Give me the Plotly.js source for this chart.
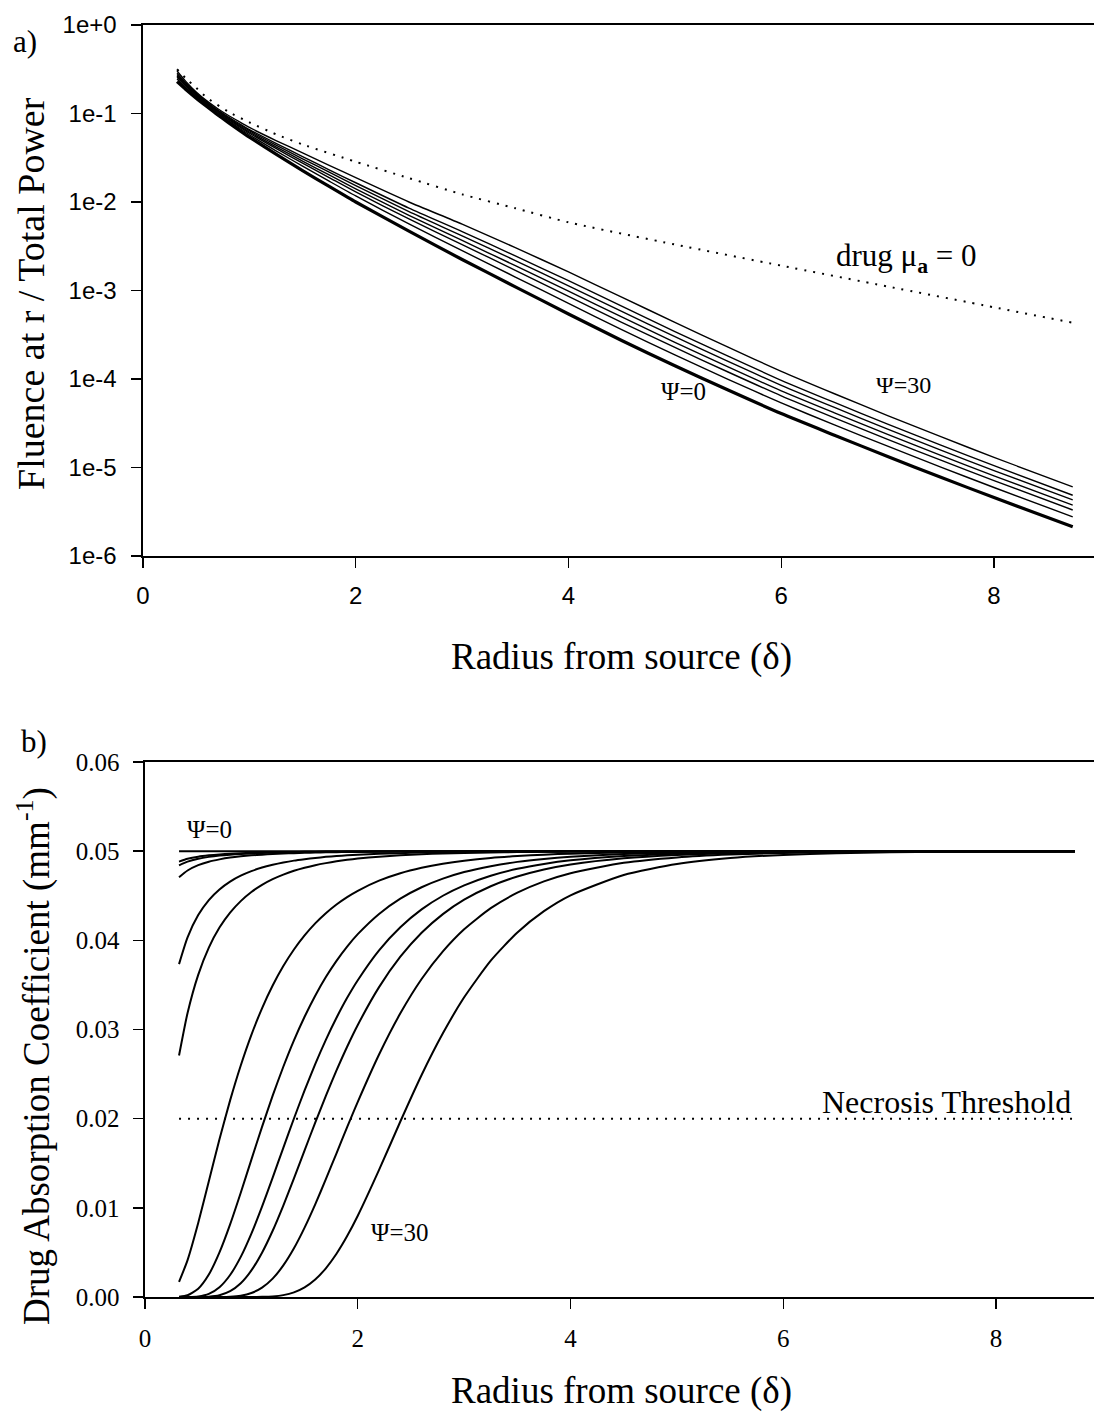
<!DOCTYPE html>
<html>
<head>
<meta charset="utf-8">
<script src="https://cdn.plot.ly/plotly-3.0.1.min.js"></script>
<style>html,body{margin:0;padding:0;background:#fff;}#chart{width:1094px;height:1418px;}</style>
</head>
<body>
<div id="chart"></div>
<script>
// ---------- Panel a) fluence vs radius ----------
const xFluence = [0.32,0.4,0.5,0.6,0.7,0.8,0.9,1.0,1.25,1.5,1.75,2.0,2.5,3.0,3.5,4.0,4.5,5.0,5.5,6.0,6.5,7.0,7.5,8.0,8.74];
const fluencePsi0  = [2.29e-1,1.88e-1,1.49e-1,1.20e-1,9.71e-2,7.94e-2,6.53e-2,5.40e-2,3.47e-2,2.26e-2,1.50e-2,1.00e-2,4.68e-3,2.24e-3,1.10e-3,5.43e-4,2.72e-4,1.41e-4,7.50e-5,4.07e-5,2.32e-5,1.33e-5,7.76e-6,4.57e-6,2.14e-6];
const fluencePsi5  = [2.45e-1,1.98e-1,1.55e-1,1.24e-1,1.01e-1,8.32e-2,6.90e-2,5.75e-2,3.79e-2,2.54e-2,1.72e-2,1.17e-2,5.66e-3,2.82e-3,1.42e-3,7.14e-4,3.61e-4,1.87e-4,9.91e-5,5.36e-5,3.03e-5,1.74e-5,1.01e-5,5.94e-6,2.77e-6];
const fluencePsi10 = [2.57e-1,2.06e-1,1.60e-1,1.27e-1,1.04e-1,8.59e-2,7.16e-2,6.00e-2,4.03e-2,2.75e-2,1.89e-2,1.30e-2,6.44e-3,3.30e-3,1.69e-3,8.60e-4,4.37e-4,2.27e-4,1.20e-4,6.45e-5,3.64e-5,2.08e-5,1.21e-5,7.10e-6,3.31e-6];
const fluencePsi15 = [2.66e-1,2.11e-1,1.63e-1,1.30e-1,1.06e-1,8.78e-2,7.35e-2,6.18e-2,4.20e-2,2.90e-2,2.02e-2,1.41e-2,7.05e-3,3.68e-3,1.91e-3,9.81e-4,5.02e-4,2.60e-4,1.37e-4,7.35e-5,4.15e-5,2.37e-5,1.37e-5,8.05e-6,3.75e-6];
const fluencePsi20 = [2.75e-1,2.16e-1,1.66e-1,1.32e-1,1.08e-1,8.99e-2,7.56e-2,6.39e-2,4.40e-2,3.08e-2,2.17e-2,1.53e-2,7.78e-3,4.15e-3,2.18e-3,1.13e-3,5.80e-4,3.01e-4,1.58e-4,8.48e-5,4.77e-5,2.72e-5,1.57e-5,9.22e-6,4.30e-6];
const fluencePsi25 = [2.85e-1,2.22e-1,1.70e-1,1.35e-1,1.10e-1,9.19e-2,7.76e-2,6.59e-2,4.60e-2,3.26e-2,2.31e-2,1.65e-2,8.53e-3,4.63e-3,2.46e-3,1.29e-3,6.64e-4,3.44e-4,1.81e-4,9.67e-5,5.43e-5,3.09e-5,1.79e-5,1.05e-5,4.86e-6];
const fluencePsi30 = [3.02e-1,2.32e-1,1.75e-1,1.39e-1,1.14e-1,9.55e-2,8.13e-2,6.95e-2,4.95e-2,3.59e-2,2.60e-2,1.88e-2,1.00e-2,5.62e-3,3.05e-3,1.62e-3,8.41e-4,4.37e-4,2.29e-4,1.22e-4,6.81e-5,3.86e-5,2.23e-5,1.30e-5,6.05e-6];
const xNoDrug = [0.32,0.4,0.5,0.6,0.8,1.0,1.25,1.5,2.0,2.5,3.0,3.5,4.0,5.0,6.0,7.0,8.0,8.74];
const fluenceNoDrug = [3.16e-1,2.51e-1,1.95e-1,1.51e-1,1.05e-1,7.94e-2,5.82e-2,4.47e-2,2.85e-2,1.86e-2,1.22e-2,8.51e-3,5.89e-3,3.31e-3,1.91e-3,1.11e-3,6.46e-4,4.32e-4];
const logTickVals = [1,1e-1,1e-2,1e-3,1e-4,1e-5,1e-6];
const logTickText = ["1e+0","1e-1","1e-2","1e-3","1e-4","1e-5","1e-6"];
const xTickVals = [0,2,4,6,8];

// ---------- Panel b) drug absorption coefficient ----------
const xDrug = [0.32,0.4,0.5,0.6,0.7,0.8,0.9,1.0,1.1,1.2,1.3,1.4,1.5,1.6,1.7,1.8,1.9,2.0,2.2,2.4,2.6,2.8,3.0,3.25,3.5,3.75,4.0,4.5,5.0,5.5,6.0,6.5,7.0,8.0,8.74];
const muA0  = [0.05,0.05,0.05,0.05,0.05,0.05,0.05,0.05,0.05,0.05,0.05,0.05,0.05,0.05,0.05,0.05,0.05,0.05,0.05,0.05,0.05,0.05,0.05,0.05,0.05,0.05,0.05,0.05,0.05,0.05,0.05,0.05,0.05,0.05,0.05];
const muA1  = [0.04883,0.04914,0.04938,0.04953,0.04964,0.04972,0.04977,0.04982,0.04985,0.04988,0.0499,0.04991,0.04993,0.04994,0.04995,0.04995,0.04996,0.04997,0.04998,0.04998,0.04998,0.04999,0.04999,0.05,0.05,0.05,0.05,0.05,0.05,0.05,0.05,0.05,0.05,0.05,0.05];
const muA2  = [0.04841,0.04883,0.04915,0.04936,0.04951,0.04961,0.04969,0.04975,0.04979,0.04983,0.04986,0.04988,0.0499,0.04992,0.04993,0.04994,0.04995,0.04996,0.04997,0.04998,0.04998,0.04999,0.04999,0.05,0.05,0.05,0.05,0.05,0.05,0.05,0.05,0.05,0.05,0.05,0.05];
const muA3  = [0.04708,0.04783,0.04843,0.04882,0.04908,0.04928,0.04942,0.04953,0.04961,0.04968,0.04974,0.04978,0.04982,0.04985,0.04987,0.04989,0.04991,0.04992,0.04994,0.04995,0.04996,0.04997,0.04998,0.04999,0.04999,0.04999,0.05,0.05,0.05,0.05,0.05,0.05,0.05,0.05,0.05];
const muA4  = [0.03733,0.04033,0.04283,0.04452,0.04571,0.04659,0.04725,0.04776,0.04816,0.04847,0.04873,0.04894,0.0491,0.04924,0.04936,0.04945,0.04953,0.0496,0.0497,0.04978,0.04984,0.04988,0.04991,0.04993,0.04995,0.04997,0.04998,0.04999,0.05,0.05,0.05,0.05,0.05,0.05,0.05];
const muA5  = [0.02708,0.03185,0.03613,0.03919,0.04143,0.04311,0.0444,0.04542,0.04622,0.04686,0.04737,0.0478,0.04814,0.04843,0.04866,0.04886,0.04903,0.04917,0.04938,0.04954,0.04966,0.04974,0.0498,0.04986,0.0499,0.04993,0.04995,0.04997,0.04999,0.05,0.05,0.05,0.05,0.05,0.05];
const muA6  = [0.00169,0.00414,0.0083,0.01299,0.01768,0.02205,0.02596,0.0294,0.03238,0.03493,0.03711,0.03897,0.04055,0.0419,0.04304,0.04402,0.04485,0.04556,0.04669,0.04752,0.04813,0.04859,0.04893,0.04924,0.04945,0.04961,0.04972,0.04985,0.04992,0.04996,0.04998,0.04999,0.05,0.05,0.05];
const muA7  = [0.00003,0.0002,0.00093,0.00252,0.005,0.00814,0.01169,0.01541,0.01908,0.02258,0.02582,0.02878,0.03143,0.03379,0.03588,0.0377,0.0393,0.04069,0.04296,0.04467,0.04595,0.04692,0.04766,0.04832,0.0488,0.04913,0.04937,0.04967,0.04982,0.04991,0.04995,0.04997,0.04998,0.05,0.05];
const muA8  = [0,0.000005,0.00007,0.00035,0.0011,0.00247,0.0045,0.00711,0.01014,0.01339,0.01673,0.02002,0.02317,0.02612,0.02884,0.03131,0.03355,0.03553,0.03888,0.04147,0.04347,0.045,0.04617,0.04725,0.04802,0.04857,0.04897,0.04945,0.04971,0.04984,0.04992,0.04995,0.04997,0.04999,0.05];
const muA9  = [0,0,0.000004,0.00004,0.0002,0.00065,0.00154,0.00298,0.00497,0.00743,0.01026,0.0133,0.01645,0.01955,0.02256,0.02541,0.02807,0.03051,0.03475,0.03816,0.04085,0.04294,0.04456,0.04607,0.04716,0.04795,0.04851,0.04921,0.04958,0.04977,0.04988,0.04993,0.04996,0.04999,0.05];
const muA10 = [0,0,0,0,0.000005,0.000035,0.00015,0.00045,0.00105,0.00206,0.00354,0.00546,0.00778,0.01039,0.01321,0.01612,0.01905,0.02189,0.0272,0.03181,0.03566,0.03876,0.04124,0.04361,0.04534,0.04661,0.04753,0.04869,0.0493,0.04962,0.04979,0.04989,0.04994,0.04998,0.04999];
const muA30 = [0,0,0,0,0,0,0,0.000003,0.00002,0.00007,0.00021,0.00052,0.00108,0.00196,0.00322,0.00485,0.00683,0.00911,0.01425,0.01968,0.0249,0.02957,0.03361,0.03772,0.04088,0.04327,0.04505,0.04733,0.04856,0.04922,0.04958,0.04977,0.04987,0.04996,0.04998];
const xThreshold = [0.32,8.74];
const threshold = [0.02,0.02];
const muTickVals = [0,0.01,0.02,0.03,0.04,0.05,0.06];

// ---------- build traces ----------
const serif = "Liberation Serif, Times New Roman, serif";
const sans = "Liberation Sans, Arial, sans-serif";
const traces = [];
function addLine(x, y, xa, ya, w, dash, shape) {
  traces.push({x: x, y: y, xaxis: xa, yaxis: ya, type: 'scatter', mode: 'lines',
    line: {color: '#000', width: w, dash: dash || 'solid', shape: shape || 'spline', smoothing: 0.6},
    hoverinfo: 'skip', showlegend: false});
}
addLine(xNoDrug, fluenceNoDrug, 'x', 'y', 2, '2px,7px');
[fluencePsi5, fluencePsi10, fluencePsi15, fluencePsi20, fluencePsi25, fluencePsi30].forEach(s => addLine(xFluence, s, 'x', 'y', 1.4));
addLine(xFluence, fluencePsi0, 'x', 'y', 3.2);

addLine(xThreshold, threshold, 'x2', 'y2', 2, '2px,7px', 'linear');
[muA0, muA1, muA2, muA3, muA4, muA5, muA6, muA7, muA8, muA9, muA10, muA30].forEach(s => addLine(xDrug, s, 'x2', 'y2', 2));

const W = 1094, H = 1418, L = 143, R = 0, T = 25, B = 121;
const pw = W - L - R, ph = H - T - B;
const px = v => (v - L) / pw;
const py = v => (H - B - v) / ph;

const axisCommon = {showline: true, linecolor: '#000', linewidth: 1.6, ticks: 'outside', ticklen: 10,
  tickwidth: 1.4, tickcolor: '#000', showgrid: false, zeroline: false, fixedrange: true};

const layout = {
  width: W, height: H,
  margin: {l: L, r: R, t: T, b: B},
  paper_bgcolor: '#fff', plot_bgcolor: '#fff',
  showlegend: false,
  xaxis: Object.assign({}, axisCommon, {domain: [0, 1], anchor: 'y', range: [0, 8.94], tickvals: xTickVals,
    mirror: true, tickfont: {family: sans, size: 24, color: '#000'}, ticklabelstandoff: 8}),
  yaxis: Object.assign({}, axisCommon, {domain: [py(556), 1], anchor: 'x', type: 'log', range: [-6, 0],
    tickvals: logTickVals, ticktext: logTickText, tickfont: {family: sans, size: 24, color: '#000'}, ticklabelstandoff: 10}),
  xaxis2: Object.assign({}, axisCommon, {domain: [px(145), 1], anchor: 'y2', range: [0, 8.92], tickvals: xTickVals,
    mirror: true, tickfont: {family: serif, size: 25, color: '#000'}, ticklabelstandoff: 8}),
  yaxis2: Object.assign({}, axisCommon, {domain: [0, py(762)], anchor: 'x2', range: [0, 0.06],
    tickvals: muTickVals, tickformat: '.2f', tickfont: {family: serif, size: 25, color: '#000'}, ticklabelstandoff: 9}),
  annotations: [
    {text: 'a)', x: px(11), y: py(42), xanchor: 'left', yanchor: 'middle', font: {family: serif, size: 31}},
    {text: 'b)', x: px(19), y: py(741), xanchor: 'left', yanchor: 'middle', font: {family: serif, size: 31}},
    {text: 'Fluence at r / Total Power', x: px(31), y: py(294), textangle: -90, xanchor: 'center', yanchor: 'middle', font: {family: serif, size: 38}},
    {text: 'Radius from source (\u03b4)', x: px(621), y: py(657), xanchor: 'center', yanchor: 'middle', font: {family: serif, size: 37}},
    {text: 'Drug Absorption Coefficient (mm<sup>-1</sup>)', x: px(34), y: py(1056), textangle: -90, xanchor: 'center', yanchor: 'middle', font: {family: serif, size: 37}},
    {text: 'Radius from source (\u03b4)', x: px(621), y: py(1391), xanchor: 'center', yanchor: 'middle', font: {family: serif, size: 37}},
    {text: 'drug \u03bc<sub><b>a</b></sub> = 0', x: px(834), y: py(258), xanchor: 'left', yanchor: 'middle', font: {family: serif, size: 31}},
    {text: '\u03a8=0', x: px(683), y: py(392), xanchor: 'center', yanchor: 'middle', font: {family: serif, size: 25}},
    {text: '\u03a8=30', x: px(903), y: py(385), xanchor: 'center', yanchor: 'middle', font: {family: serif, size: 24}},
    {text: '\u03a8=0', x: px(209), y: py(830), xanchor: 'center', yanchor: 'middle', font: {family: serif, size: 25}},
    {text: 'Necrosis Threshold', x: px(1073), y: py(1102), xanchor: 'right', yanchor: 'middle', font: {family: serif, size: 32}},
    {text: '\u03a8=30', x: px(400), y: py(1232), xanchor: 'center', yanchor: 'middle', font: {family: serif, size: 25}}
  ].map(a => Object.assign({xref: 'paper', yref: 'paper', showarrow: false}, a, {font: Object.assign({color: '#000'}, a.font)}))
};

Plotly.newPlot('chart', traces, layout, {staticPlot: true, displayModeBar: false});
</script>
</body>
</html>
